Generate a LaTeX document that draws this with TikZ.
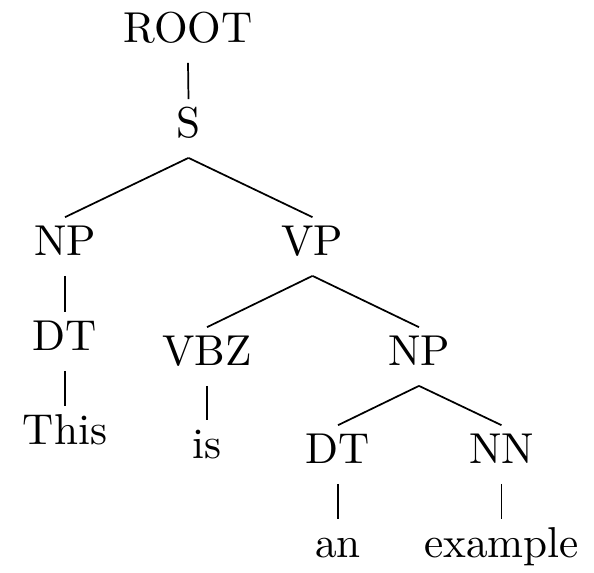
\documentclass[tikz,border=0pt]{standalone}
\begin{document}
\begin{tikzpicture}[x=0.2315pt,y=-0.2315pt,
  lab/.style={inner sep=0pt,text height=8.56pt,text depth=4.63pt,anchor=base},
  edge/.style={line width=0.4pt}]
\useasboundingbox (0,0) rectangle (594,572);
\node[lab] (root) at (188,42) {ROOT};
\node[lab] (s) at (188.5,137) {S};
\node[lab] (np1) at (65,255) {NP};
\node[lab] (vp) at (312.5,255) {VP};
\node[lab] (dt1) at (65,350) {DT};
\node[lab] (this) at (65,444) {This};
\node[lab] (vbz) at (207,365) {VBZ};
\node[lab] (np2) at (419,365) {NP};
\node[lab] (is) at (207,458) {is};
\node[lab] (dt2) at (338,463) {DT};
\node[lab] (nn) at (501.5,463) {NN};
\node[lab] (an) at (338,557) {an};
\node[lab] (ex) at (501.5,557) {example};
\foreach \a/\b in {root/s, s/np1, s/vp, np1/dt1, dt1/this, vp/vbz, vp/np2, vbz/is, np2/dt2, np2/nn, dt2/an, nn/ex}
  \draw[edge] (\a.south) -- (\b.north);
\end{tikzpicture}
\end{document}
